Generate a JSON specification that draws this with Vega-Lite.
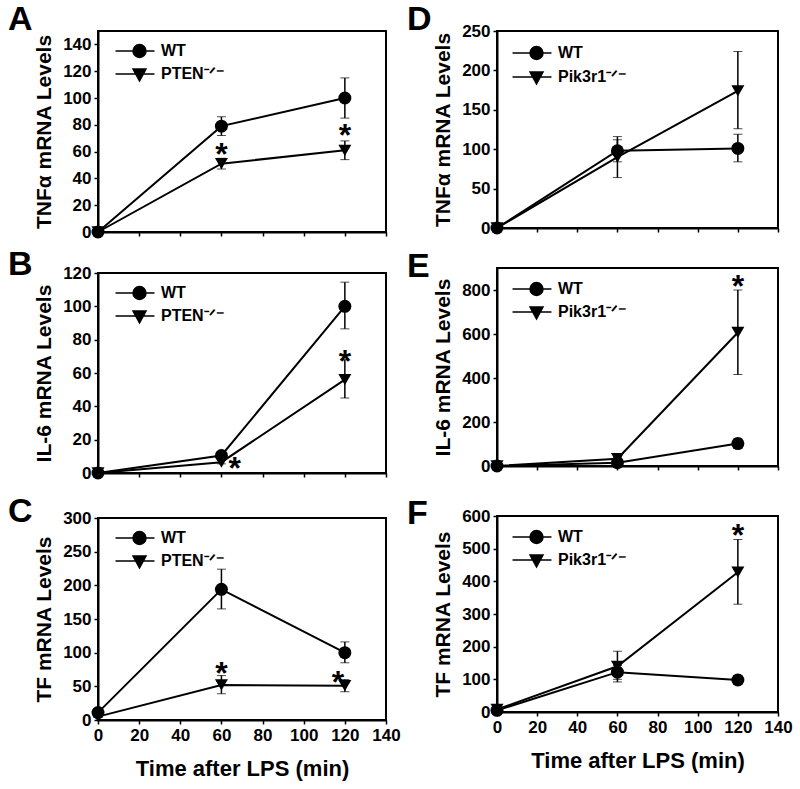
{
  "$schema": "https://vega.github.io/schema/vega-lite/v6.json",
  "autosize": {"type": "pad"},
  "padding": {"left": 7, "top": 1, "right": 2, "bottom": 4},
  "background": "white",
  "config": {
    "font": "Liberation Sans",
    "view": {"stroke": "black", "strokeWidth": 2},
    "axis": {"domainColor": "black", "domainWidth": 2, "tickColor": "black", "tickWidth": 1.5, "tickSize": 4, "labelFont": "Liberation Sans", "labelFontWeight": "bold", "labelFontSize": 17, "labelColor": "black", "labelPadding": 3, "titleFont": "Liberation Sans", "titleFontWeight": "bold", "titleColor": "black", "grid": false, "labelOverlap": false, "labelFlush": false},
    "axisY": {"titleFontSize": 21, "titlePadding": 8},
    "axisX": {"titleFontSize": 22, "titlePadding": 15},
    "legend": {"labelFont": "Liberation Sans", "labelFontSize": 16, "labelFontWeight": "bold", "labelColor": "black", "padding": 0, "rowPadding": 1, "labelOffset": 14, "symbolSize": 484, "orient": "none"},
    "title": {"font": "Liberation Sans", "fontWeight": "bold", "fontSize": 34, "color": "black", "anchor": "start", "frame": "group", "orient": "top", "offset": 0, "baseline": "alphabetic", "dx": -90}
  },
  "datasets": {
    "pts": [
      {"p": "A", "s": "WT", "t": 0, "v": 0, "lo": 0, "hi": 0},
      {"p": "A", "s": "WT", "t": 60, "v": 79, "lo": 72, "hi": 86},
      {"p": "A", "s": "WT", "t": 120, "v": 100, "lo": 85, "hi": 115},
      {"p": "A", "s": "KO", "t": 0, "v": 0, "lo": 0, "hi": 0},
      {"p": "A", "s": "KO", "t": 60, "v": 51, "lo": 47, "hi": 55},
      {"p": "A", "s": "KO", "t": 120, "v": 61, "lo": 54, "hi": 68},
      {"p": "B", "s": "WT", "t": 0, "v": 0, "lo": 0, "hi": 0},
      {"p": "B", "s": "WT", "t": 60, "v": 10.5, "lo": 9, "hi": 12},
      {"p": "B", "s": "WT", "t": 120, "v": 100, "lo": 86.5, "hi": 114.5},
      {"p": "B", "s": "KO", "t": 0, "v": 0, "lo": 0, "hi": 0},
      {"p": "B", "s": "KO", "t": 60, "v": 6.5, "lo": 5.5, "hi": 7.5},
      {"p": "B", "s": "KO", "t": 120, "v": 56, "lo": 45, "hi": 68},
      {"p": "C", "s": "WT", "t": 0, "v": 11, "lo": 9, "hi": 13},
      {"p": "C", "s": "WT", "t": 60, "v": 194, "lo": 165, "hi": 224},
      {"p": "C", "s": "WT", "t": 120, "v": 100, "lo": 85, "hi": 116},
      {"p": "C", "s": "KO", "t": 0, "v": 5, "lo": 4, "hi": 6},
      {"p": "C", "s": "KO", "t": 60, "v": 52, "lo": 39, "hi": 66},
      {"p": "C", "s": "KO", "t": 120, "v": 51, "lo": 42, "hi": 60},
      {"p": "D", "s": "WT", "t": 0, "v": 0, "lo": 0, "hi": 0},
      {"p": "D", "s": "WT", "t": 60, "v": 98, "lo": 84, "hi": 112},
      {"p": "D", "s": "WT", "t": 120, "v": 101, "lo": 84, "hi": 119},
      {"p": "D", "s": "KO", "t": 0, "v": 0, "lo": 0, "hi": 0},
      {"p": "D", "s": "KO", "t": 60, "v": 90, "lo": 64, "hi": 116},
      {"p": "D", "s": "KO", "t": 120, "v": 174, "lo": 126, "hi": 224},
      {"p": "E", "s": "WT", "t": 0, "v": 0, "lo": 0, "hi": 0},
      {"p": "E", "s": "WT", "t": 60, "v": 15, "lo": 10, "hi": 20},
      {"p": "E", "s": "WT", "t": 120, "v": 102, "lo": 80, "hi": 124},
      {"p": "E", "s": "KO", "t": 0, "v": 0, "lo": 0, "hi": 0},
      {"p": "E", "s": "KO", "t": 60, "v": 33, "lo": 25, "hi": 41},
      {"p": "E", "s": "KO", "t": 120, "v": 607, "lo": 416, "hi": 800},
      {"p": "F", "s": "WT", "t": 0, "v": 5, "lo": 3, "hi": 7},
      {"p": "F", "s": "WT", "t": 60, "v": 122, "lo": 100, "hi": 142},
      {"p": "F", "s": "WT", "t": 120, "v": 98, "lo": 85, "hi": 112},
      {"p": "F", "s": "KO", "t": 0, "v": 8, "lo": 6, "hi": 10},
      {"p": "F", "s": "KO", "t": 60, "v": 140, "lo": 92, "hi": 186},
      {"p": "F", "s": "KO", "t": 120, "v": 428, "lo": 330, "hi": 528}
    ],
    "stars": [
      {"p": "A", "t": 60, "v": 64},
      {"p": "A", "t": 120, "v": 78},
      {"p": "B", "t": 66.5, "v": 7.6},
      {"p": "B", "t": 120, "v": 72},
      {"p": "C", "t": 60, "v": 81},
      {"p": "C", "t": 116.7, "v": 69},
      {"p": "E", "t": 120, "v": 853},
      {"p": "F", "t": 120, "v": 566}
    ]
  },
  "spacing": 4,
  "hconcat": [
    {
      "bounds": "flush",
      "spacing": 41,
      "vconcat": [
        {
          "width": 288, "height": 201,
          "title": {"text": "A", "dy": 10},
          "data": {"name": "pts"},
          "transform": [{"filter": "datum.p === 'A'"}],
          "encoding": {
            "x": {"field": "t", "type": "quantitative", "scale": {"domain": [0, 140], "nice": false, "zero": false}, "axis": {"values": [0, 20, 40, 60, 80, 100, 120, 140], "labels": false, "title": null}},
            "y": {"field": "v", "type": "quantitative", "title": "TNFα mRNA Levels", "scale": {"domain": [0, 150], "nice": false}, "axis": {"values": [0, 20, 40, 60, 80, 100, 120, 140]}}
          },
          "layer": [
            {"mark": {"type": "line", "color": "black", "strokeWidth": 2}, "encoding": {"detail": {"field": "s"}}},
            {"mark": {"type": "errorbar", "color": "black", "ticks": {"size": 9, "color": "black", "strokeWidth": 1.5}, "rule": {"strokeWidth": 1.5}}, "encoding": {"y": {"field": "lo", "type": "quantitative", "title": "TNFα mRNA Levels"}, "y2": {"field": "hi"}}},
            {"mark": {"type": "point", "filled": true, "opacity": 1, "color": "black", "size": 169}, "encoding": {"shape": {"field": "s", "scale": {"domain": ["WT", "KO"], "range": ["circle", "triangle-down"]}, "legend": null}}},
            {"mark": {"type": "point", "filled": true, "opacity": 1, "color": "black", "stroke": "black", "strokeWidth": 2, "size": 0}, "encoding": {"shape": {"field": "s", "scale": {"domain": ["WT", "KO"], "range": ["M-1.77,0H1.77M1,0A0.59,0.59,0,1,1,-0.18,0A0.59,0.59,0,1,1,1,0Z", "M-1.77,0H1.77M-0.18,-0.45H1L0.41,0.64Z"]}, "legend": {"title": null, "orient": "none", "legendX": 25, "legendY": 8, "labelExpr": "datum.value === 'WT' ? 'WT' : 'PTEN⁻ᐟ⁻'"}}}},
            {"data": {"name": "stars"}, "transform": [{"filter": "datum.p === 'A'"}], "mark": {"type": "text", "text": "*", "font": "Liberation Sans", "fontSize": 32, "fontWeight": "bold", "color": "black", "baseline": "middle", "dy": 9}}
          ],
          "resolve": {"scale": {"shape": "independent"}}
        },
        {
          "bounds": "flush",
          "spacing": 45,
          "vconcat": [
            {
              "width": 288, "height": 200,
              "title": {"text": "B", "dy": 21.5},
              "data": {"name": "pts"},
              "transform": [{"filter": "datum.p === 'B'"}],
              "encoding": {
                "x": {"field": "t", "type": "quantitative", "scale": {"domain": [0, 140], "nice": false, "zero": false}, "axis": {"values": [0, 20, 40, 60, 80, 100, 120, 140], "labels": false, "title": null}},
                "y": {"field": "v", "type": "quantitative", "title": "IL-6 mRNA Levels", "scale": {"domain": [0, 120], "nice": false}, "axis": {"values": [0, 20, 40, 60, 80, 100, 120]}}
              },
              "layer": [
                {"mark": {"type": "line", "color": "black", "strokeWidth": 2}, "encoding": {"detail": {"field": "s"}}},
                {"mark": {"type": "errorbar", "color": "black", "ticks": {"size": 9, "color": "black", "strokeWidth": 1.5}, "rule": {"strokeWidth": 1.5}}, "encoding": {"y": {"field": "lo", "type": "quantitative", "title": "IL-6 mRNA Levels"}, "y2": {"field": "hi"}}},
                {"mark": {"type": "point", "filled": true, "opacity": 1, "color": "black", "size": 169}, "encoding": {"shape": {"field": "s", "scale": {"domain": ["WT", "KO"], "range": ["circle", "triangle-down"]}, "legend": null}}},
                {"mark": {"type": "point", "filled": true, "opacity": 1, "color": "black", "stroke": "black", "strokeWidth": 2, "size": 0}, "encoding": {"shape": {"field": "s", "scale": {"domain": ["WT", "KO"], "range": ["M-1.77,0H1.77M1,0A0.59,0.59,0,1,1,-0.18,0A0.59,0.59,0,1,1,1,0Z", "M-1.77,0H1.77M-0.18,-0.45H1L0.41,0.64Z"]}, "legend": {"title": null, "orient": "none", "legendX": 25, "legendY": 8, "labelExpr": "datum.value === 'WT' ? 'WT' : 'PTEN⁻ᐟ⁻'"}}}},
                {"data": {"name": "stars"}, "transform": [{"filter": "datum.p === 'B'"}], "mark": {"type": "text", "text": "*", "font": "Liberation Sans", "fontSize": 32, "fontWeight": "bold", "color": "black", "baseline": "middle", "dy": 9}}
              ],
              "resolve": {"scale": {"shape": "independent"}}
            },
            {
              "width": 288, "height": 202,
              "title": {"text": "C", "dy": 23.5},
              "data": {"name": "pts"},
              "transform": [{"filter": "datum.p === 'C'"}],
              "encoding": {
                "x": {"field": "t", "type": "quantitative", "title": "Time after LPS (min)", "scale": {"domain": [0, 140], "nice": false, "zero": false}, "axis": {"values": [0, 20, 40, 60, 80, 100, 120, 140]}},
                "y": {"field": "v", "type": "quantitative", "title": "TF mRNA Levels", "scale": {"domain": [0, 300], "nice": false}, "axis": {"values": [0, 50, 100, 150, 200, 250, 300]}}
              },
              "layer": [
                {"mark": {"type": "line", "color": "black", "strokeWidth": 2}, "encoding": {"detail": {"field": "s"}}},
                {"mark": {"type": "errorbar", "color": "black", "ticks": {"size": 9, "color": "black", "strokeWidth": 1.5}, "rule": {"strokeWidth": 1.5}}, "encoding": {"y": {"field": "lo", "type": "quantitative", "title": "TF mRNA Levels"}, "y2": {"field": "hi"}}},
                {"mark": {"type": "point", "filled": true, "opacity": 1, "color": "black", "size": 169}, "encoding": {"shape": {"field": "s", "scale": {"domain": ["WT", "KO"], "range": ["circle", "triangle-down"]}, "legend": null}}},
                {"mark": {"type": "point", "filled": true, "opacity": 1, "color": "black", "stroke": "black", "strokeWidth": 2, "size": 0}, "encoding": {"shape": {"field": "s", "scale": {"domain": ["WT", "KO"], "range": ["M-1.77,0H1.77M1,0A0.59,0.59,0,1,1,-0.18,0A0.59,0.59,0,1,1,1,0Z", "M-1.77,0H1.77M-0.18,-0.45H1L0.41,0.64Z"]}, "legend": {"title": null, "orient": "none", "legendX": 25, "legendY": 8, "labelExpr": "datum.value === 'WT' ? 'WT' : 'PTEN⁻ᐟ⁻'"}}}},
                {"data": {"name": "stars"}, "transform": [{"filter": "datum.p === 'C'"}], "mark": {"type": "text", "text": "*", "font": "Liberation Sans", "fontSize": 32, "fontWeight": "bold", "color": "black", "baseline": "middle", "dy": 9}}
              ],
              "resolve": {"scale": {"shape": "independent"}}
            }
          ]
        }
      ]
    },
    {
      "bounds": "flush",
      "spacing": 40,
      "vconcat": [
        {
          "width": 281, "height": 197,
          "title": {"text": "D", "dy": 18.5},
          "data": {"name": "pts"},
          "transform": [{"filter": "datum.p === 'D'"}],
          "encoding": {
            "x": {"field": "t", "type": "quantitative", "scale": {"domain": [0, 140], "nice": false, "zero": false}, "axis": {"values": [0, 20, 40, 60, 80, 100, 120, 140], "labels": false, "title": null}},
            "y": {"field": "v", "type": "quantitative", "title": "TNFα mRNA Levels", "scale": {"domain": [0, 250], "nice": false}, "axis": {"values": [0, 50, 100, 150, 200, 250]}}
          },
          "layer": [
            {"mark": {"type": "line", "color": "black", "strokeWidth": 2}, "encoding": {"detail": {"field": "s"}}},
            {"mark": {"type": "errorbar", "color": "black", "ticks": {"size": 9, "color": "black", "strokeWidth": 1.5}, "rule": {"strokeWidth": 1.5}}, "encoding": {"y": {"field": "lo", "type": "quantitative", "title": "TNFα mRNA Levels"}, "y2": {"field": "hi"}}},
            {"mark": {"type": "point", "filled": true, "opacity": 1, "color": "black", "size": 169}, "encoding": {"shape": {"field": "s", "scale": {"domain": ["WT", "KO"], "range": ["circle", "triangle-down"]}, "legend": null}}},
            {"mark": {"type": "point", "filled": true, "opacity": 1, "color": "black", "stroke": "black", "strokeWidth": 2, "size": 0}, "encoding": {"shape": {"field": "s", "scale": {"domain": ["WT", "KO"], "range": ["M-1.77,0H1.77M1,0A0.59,0.59,0,1,1,-0.18,0A0.59,0.59,0,1,1,1,0Z", "M-1.77,0H1.77M-0.18,-0.45H1L0.41,0.64Z"]}, "legend": {"title": null, "orient": "none", "legendX": 23, "legendY": 10, "rowPadding": 2, "labelExpr": "datum.value === 'WT' ? 'WT' : 'Pik3r1⁻ᐟ⁻'"}}}}
          ],
          "resolve": {"scale": {"shape": "independent"}}
        },
        {
          "bounds": "flush",
          "spacing": 50,
          "vconcat": [
            {
              "width": 281, "height": 198,
              "title": {"text": "E", "dy": 20},
              "data": {"name": "pts"},
              "transform": [{"filter": "datum.p === 'E'"}],
              "encoding": {
                "x": {"field": "t", "type": "quantitative", "scale": {"domain": [0, 140], "nice": false, "zero": false}, "axis": {"values": [0, 20, 40, 60, 80, 100, 120, 140], "labels": false, "title": null}},
                "y": {"field": "v", "type": "quantitative", "title": "IL-6 mRNA Levels", "scale": {"domain": [0, 900], "nice": false}, "axis": {"values": [0, 200, 400, 600, 800]}}
              },
              "layer": [
                {"mark": {"type": "line", "color": "black", "strokeWidth": 2}, "encoding": {"detail": {"field": "s"}}},
                {"mark": {"type": "errorbar", "color": "black", "ticks": {"size": 9, "color": "black", "strokeWidth": 1.5}, "rule": {"strokeWidth": 1.5}}, "encoding": {"y": {"field": "lo", "type": "quantitative", "title": "IL-6 mRNA Levels"}, "y2": {"field": "hi"}}},
                {"mark": {"type": "point", "filled": true, "opacity": 1, "color": "black", "size": 169}, "encoding": {"shape": {"field": "s", "scale": {"domain": ["WT", "KO"], "range": ["circle", "triangle-down"]}, "legend": null}}},
                {"mark": {"type": "point", "filled": true, "opacity": 1, "color": "black", "stroke": "black", "strokeWidth": 2, "size": 0}, "encoding": {"shape": {"field": "s", "scale": {"domain": ["WT", "KO"], "range": ["M-1.77,0H1.77M1,0A0.59,0.59,0,1,1,-0.18,0A0.59,0.59,0,1,1,1,0Z", "M-1.77,0H1.77M-0.18,-0.45H1L0.41,0.64Z"]}, "legend": {"title": null, "orient": "none", "legendX": 23, "legendY": 9, "labelExpr": "datum.value === 'WT' ? 'WT' : 'Pik3r1⁻ᐟ⁻'"}}}},
                {"data": {"name": "stars"}, "transform": [{"filter": "datum.p === 'E'"}], "mark": {"type": "text", "text": "*", "font": "Liberation Sans", "fontSize": 32, "fontWeight": "bold", "color": "black", "baseline": "middle", "dy": 9}}
              ],
              "resolve": {"scale": {"shape": "independent"}}
            },
            {
              "width": 281, "height": 196,
              "title": {"text": "F", "dy": 27.5},
              "data": {"name": "pts"},
              "transform": [{"filter": "datum.p === 'F'"}],
              "encoding": {
                "x": {"field": "t", "type": "quantitative", "title": "Time after LPS (min)", "scale": {"domain": [0, 140], "nice": false, "zero": false}, "axis": {"values": [0, 20, 40, 60, 80, 100, 120, 140]}},
                "y": {"field": "v", "type": "quantitative", "title": "TF mRNA Levels", "scale": {"domain": [0, 600], "nice": false}, "axis": {"values": [0, 100, 200, 300, 400, 500, 600]}}
              },
              "layer": [
                {"mark": {"type": "line", "color": "black", "strokeWidth": 2}, "encoding": {"detail": {"field": "s"}}},
                {"mark": {"type": "errorbar", "color": "black", "ticks": {"size": 9, "color": "black", "strokeWidth": 1.5}, "rule": {"strokeWidth": 1.5}}, "encoding": {"y": {"field": "lo", "type": "quantitative", "title": "TF mRNA Levels"}, "y2": {"field": "hi"}}},
                {"mark": {"type": "point", "filled": true, "opacity": 1, "color": "black", "size": 169}, "encoding": {"shape": {"field": "s", "scale": {"domain": ["WT", "KO"], "range": ["circle", "triangle-down"]}, "legend": null}}},
                {"mark": {"type": "point", "filled": true, "opacity": 1, "color": "black", "stroke": "black", "strokeWidth": 2, "size": 0}, "encoding": {"shape": {"field": "s", "scale": {"domain": ["WT", "KO"], "range": ["M-1.77,0H1.77M1,0A0.59,0.59,0,1,1,-0.18,0A0.59,0.59,0,1,1,1,0Z", "M-1.77,0H1.77M-0.18,-0.45H1L0.41,0.64Z"]}, "legend": {"title": null, "orient": "none", "legendX": 23, "legendY": 9, "labelExpr": "datum.value === 'WT' ? 'WT' : 'Pik3r1⁻ᐟ⁻'"}}}},
                {"data": {"name": "stars"}, "transform": [{"filter": "datum.p === 'F'"}], "mark": {"type": "text", "text": "*", "font": "Liberation Sans", "fontSize": 32, "fontWeight": "bold", "color": "black", "baseline": "middle", "dy": 9}}
              ],
              "resolve": {"scale": {"shape": "independent"}}
            }
          ]
        }
      ]
    }
  ]
}
